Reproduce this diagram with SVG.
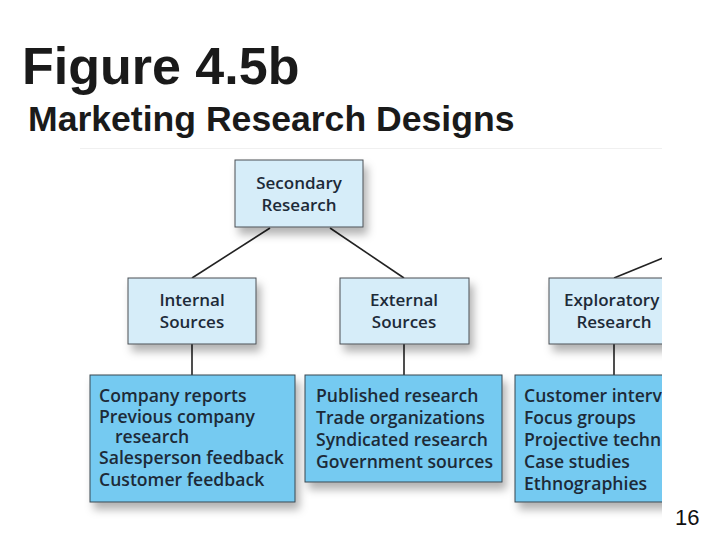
<svg xmlns="http://www.w3.org/2000/svg" width="720" height="540" viewBox="0 0 720 540">
  <defs>
    <style>
      .title { font-family: "Liberation Sans", Arial, sans-serif; font-weight: bold; fill: #1a1a1a; }
      .page { font-family: "Liberation Sans", Arial, sans-serif; font-size: 22px; fill: #111; }
      .hdr { fill: #d6edf9; stroke: #4a4f55; stroke-width: 1; }
      .leaf { fill: #74caf1; stroke: #3b4650; stroke-width: 1; }
      .lbl { font-family: "Open Sans", "Noto Sans", sans-serif; font-weight: 600; font-size: 17px; fill: #1d2a38; }
      .item { font-size: 17.6px; }
      .mid { text-anchor: middle; }
      .conn { stroke: #222; stroke-width: 1.6; fill: none; }
    </style>
    <filter id="sh" x="-20%" y="-20%" width="150%" height="150%">
      <feDropShadow dx="4" dy="7" stdDeviation="4" flood-color="#000" flood-opacity="0.3"/>
    </filter>
    <clipPath id="clip">
      <rect x="0" y="140" width="662" height="400"/>
    </clipPath>
  </defs>

  <rect x="0" y="0" width="720" height="540" fill="#ffffff"/>

  <text class="title" x="22" y="84" font-size="52">Figure 4.5b</text>
  <text class="title" x="28" y="131" font-size="35.6">Marketing Research Designs</text>

  <line x1="80" y1="148.5" x2="662" y2="148.5" stroke="#f0f0f0" stroke-width="1"/>

  <g clip-path="url(#clip)">
    <g id="connectors">
      <path class="conn" d="M270,228 L192,278"/>
      <path class="conn" d="M330,228 L404,278"/>
      <path class="conn" d="M614,278 L670,255"/>
      <line class="conn" x1="192" y1="344" x2="192" y2="375"/>
      <line class="conn" x1="404" y1="344" x2="404" y2="375"/>
      <line class="conn" x1="614" y1="344" x2="614" y2="375"/>
    </g>

    <g id="secondary-research">
      <rect class="hdr" x="235" y="160" width="128" height="67" filter="url(#sh)"/>
      <text class="lbl mid" x="299" y="189">Secondary</text>
      <text class="lbl mid" x="299" y="211">Research</text>
    </g>

    <g id="internal-sources">
      <rect class="hdr" x="128" y="278" width="128" height="66" filter="url(#sh)"/>
      <text class="lbl mid" x="192" y="306">Internal</text>
      <text class="lbl mid" x="192" y="328">Sources</text>
    </g>

    <g id="external-sources">
      <rect class="hdr" x="340" y="278" width="129" height="66" filter="url(#sh)"/>
      <text class="lbl mid" x="404" y="306">External</text>
      <text class="lbl mid" x="404" y="328">Sources</text>
    </g>

    <g id="exploratory-research">
      <rect class="hdr" x="549" y="278" width="140" height="66" filter="url(#sh)"/>
      <text class="lbl" x="564" y="306">Exploratory</text>
      <text class="lbl mid" x="614" y="328">Research</text>
    </g>

    <g id="internal-list">
      <rect class="leaf" x="90" y="375" width="205" height="127" filter="url(#sh)"/>
      <text class="lbl item" x="99" y="402">Company reports</text>
      <text class="lbl item" x="99" y="423">Previous company</text>
      <text class="lbl item" x="115" y="443">research</text>
      <text class="lbl item" x="99" y="464">Salesperson feedback</text>
      <text class="lbl item" x="99" y="486">Customer feedback</text>
    </g>

    <g id="external-list">
      <rect class="leaf" x="305" y="375" width="197" height="107" filter="url(#sh)"/>
      <text class="lbl item" x="316" y="402">Published research</text>
      <text class="lbl item" x="316" y="424">Trade organizations</text>
      <text class="lbl item" x="316" y="446">Syndicated research</text>
      <text class="lbl item" x="316" y="468">Government sources</text>
    </g>

    <g id="exploratory-list">
      <rect class="leaf" x="515" y="375" width="180" height="127" filter="url(#sh)"/>
      <text class="lbl item" x="524" y="402">Customer interv</text>
      <text class="lbl item" x="524" y="424">Focus groups</text>
      <text class="lbl item" x="524" y="446">Projective techn</text>
      <text class="lbl item" x="524" y="468">Case studies</text>
      <text class="lbl item" x="524" y="490">Ethnographies</text>
    </g>
  </g>

  <text class="page" x="675" y="525">16</text>
</svg>
